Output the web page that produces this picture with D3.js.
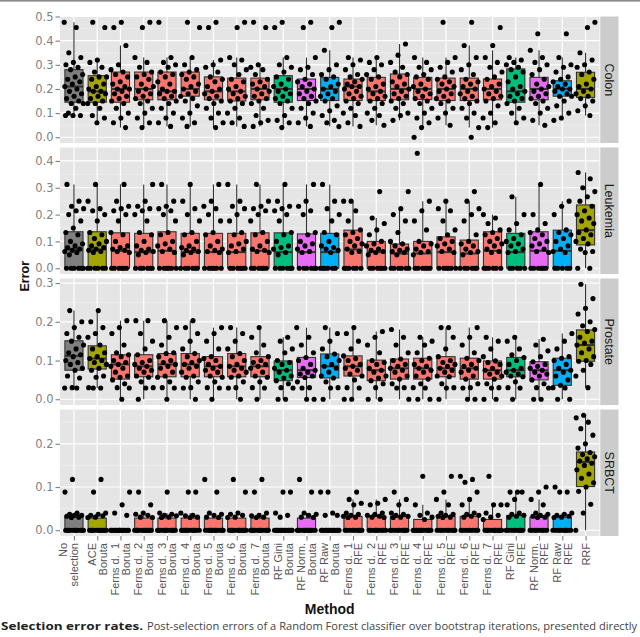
<!DOCTYPE html>
<html><head><meta charset="utf-8">
<script src="https://cdn.jsdelivr.net/npm/d3@7"></script>
<style>body{margin:0;background:#fff} svg{display:block}</style>
</head><body>
<svg id="c" width="640" height="637"></svg>
<script>
// ---------- DATA ----------
const NB = "\u00A0";
const methodLabels = [
  ["No","selection",""],["ACE","Boruta"],
  ["Ferns d."+NB+" 1","Boruta"],["Ferns d."+NB+" 2","Boruta"],["Ferns d."+NB+" 3","Boruta"],["Ferns d."+NB+" 4","Boruta"],
  ["Ferns d."+NB+" 5","Boruta"],["Ferns d."+NB+" 6","Boruta"],["Ferns d."+NB+" 7","Boruta"],
  ["RF Gini","Boruta"],["RF Norm.","Boruta"],["RF Raw","Boruta"],
  ["Ferns d."+NB+" 1","RFE"],["Ferns d."+NB+" 2","RFE"],["Ferns d."+NB+" 3","RFE"],["Ferns d."+NB+" 4","RFE"],
  ["Ferns d."+NB+" 5","RFE"],["Ferns d."+NB+" 6","RFE"],["Ferns d."+NB+" 7","RFE"],
  ["RF Gini","RFE"],["RF Norm.","RFE"],["RF Raw","RFE"],["RRF"]
];
const methodGroup = ["none","ace","fb","fb","fb","fb","fb","fb","fb","gini","norm","raw",
  "fb","fb","fb","fb","fb","fb","fb","gini","norm","raw","ace"];
const groupFill = {none:"#7F7F7F", ace:"#A3A500", fb:"#F8766D", gini:"#00BF7D", norm:"#E76BF3", raw:"#00B0F6"};
const facetNames = ["Colon","Leukemia","Prostate","SRBCT"];

const colonTicks = [0,0.1,0.2,0.3,0.4,0.5];
const leukemiaTicks = [0,0.1,0.2,0.3,0.4];
const prostateTicks = [0,0.1,0.2,0.3];
const srbctTicks = [0,0.1,0.2];

// box stats: [lower whisker, q1, median, q3, upper whisker]
const colonBoxes = [
[0.09,0.145,0.21,0.28,0.4762],[0.06,0.145,0.19,0.255,0.32],[0.04,0.145,0.2,0.27,0.38],[0.04,0.155,0.2,0.27,0.33],
[0.045,0.155,0.19,0.27,0.33],[0.045,0.17,0.2,0.27,0.33],[0.04,0.155,0.19,0.25,0.32],[0.045,0.15,0.19,0.245,0.33],
[0.045,0.155,0.2,0.245,0.3],[0.04,0.145,0.2,0.255,0.33],[0.045,0.152,0.2,0.241,0.33],[0.044,0.152,0.2,0.248,0.36],
[0.045,0.152,0.21,0.241,0.33],[0.05,0.152,0.19,0.248,0.33],[0.07,0.155,0.2,0.262,0.386],[0.04,0.156,0.2,0.248,0.33],
[0.05,0.152,0.2,0.245,0.33],[0.04,0.152,0.2,0.245,0.38],[0.04,0.155,0.2,0.241,0.36],[0.06,0.145,0.19,0.283,0.33],
[0.05,0.155,0.2,0.248,0.36],[0.07,0.17,0.2,0.234,0.33],[0.09,0.165,0.2,0.269,0.35]
];
const colonPoints = [
[0.4762,0.4545,0.35,0.33,0.31,0.3,0.29,0.28,0.26,0.25,0.24,0.23,0.22,0.21,0.2,0.19,0.18,0.17,0.16,0.15,0.14,0.14,0.12,0.1,0.09,0.09,0.09],
[0.4762,0.4545,0.32,0.31,0.29,0.27,0.25,0.25,0.24,0.22,0.21,0.2,0.19,0.19,0.18,0.17,0.16,0.15,0.14,0.14,0.12,0.09,0.08,0.06],
[0.4762,0.4545,0.38,0.3,0.28,0.27,0.26,0.25,0.23,0.22,0.21,0.2,0.2,0.19,0.18,0.17,0.16,0.15,0.14,0.12,0.1,0.08,0.06,0.04],
[0.4762,0.4545,0.33,0.31,0.29,0.27,0.26,0.25,0.24,0.22,0.21,0.2,0.19,0.18,0.17,0.16,0.15,0.14,0.12,0.1,0.08,0.06,0.04],
[0.4762,0.33,0.31,0.3,0.29,0.27,0.26,0.25,0.23,0.22,0.2,0.19,0.19,0.18,0.17,0.16,0.15,0.14,0.12,0.1,0.08,0.06,0.045],
[0.4762,0.4545,0.33,0.3,0.28,0.27,0.26,0.25,0.24,0.22,0.21,0.2,0.19,0.18,0.17,0.16,0.15,0.13,0.1,0.08,0.06,0.045],
[0.4762,0.4545,0.32,0.3,0.29,0.27,0.25,0.24,0.23,0.21,0.2,0.19,0.18,0.17,0.16,0.15,0.14,0.12,0.1,0.08,0.06,0.04],
[0.4762,0.4545,0.33,0.32,0.3,0.28,0.26,0.24,0.23,0.21,0.2,0.19,0.18,0.17,0.16,0.15,0.14,0.12,0.1,0.08,0.06,0.045],
[0.4762,0.4545,0.3,0.29,0.28,0.26,0.24,0.23,0.22,0.21,0.2,0.19,0.18,0.17,0.16,0.15,0.14,0.12,0.09,0.07,0.06,0.045],
[0.4762,0.4545,0.33,0.3,0.29,0.27,0.25,0.24,0.22,0.21,0.2,0.19,0.18,0.17,0.16,0.15,0.14,0.12,0.09,0.07,0.06,0.04],
[0.4762,0.4545,0.33,0.29,0.28,0.26,0.24,0.23,0.22,0.21,0.2,0.19,0.18,0.17,0.16,0.15,0.14,0.12,0.1,0.08,0.06,0.045],
[0.4762,0.4545,0.36,0.3,0.28,0.26,0.25,0.24,0.22,0.21,0.2,0.19,0.18,0.17,0.16,0.15,0.13,0.11,0.09,0.07,0.06,0.044],
[0.33,0.32,0.3,0.28,0.26,0.25,0.24,0.23,0.22,0.21,0.21,0.2,0.19,0.18,0.17,0.16,0.15,0.14,0.12,0.1,0.09,0.06,0.045],
[0.33,0.31,0.3,0.28,0.26,0.25,0.24,0.22,0.21,0.2,0.19,0.18,0.17,0.16,0.15,0.14,0.12,0.1,0.09,0.07,0.05],
[0.386,0.34,0.31,0.29,0.27,0.26,0.25,0.23,0.22,0.21,0.2,0.19,0.18,0.17,0.16,0.15,0.14,0.12,0.1,0.09,0.07],
[0.33,0.31,0.29,0.28,0.26,0.25,0.24,0.22,0.21,0.2,0.19,0.18,0.17,0.16,0.15,0.14,0.12,0.1,0.08,0.06,0.04,0.0],
[0.4762,0.33,0.31,0.29,0.27,0.25,0.24,0.23,0.22,0.21,0.2,0.19,0.18,0.17,0.16,0.15,0.14,0.12,0.1,0.08,0.05],
[0.4762,0.38,0.33,0.3,0.28,0.26,0.24,0.23,0.22,0.21,0.2,0.19,0.18,0.17,0.16,0.15,0.14,0.12,0.1,0.08,0.04,0.0],
[0.4545,0.38,0.33,0.31,0.29,0.27,0.25,0.24,0.22,0.21,0.2,0.19,0.18,0.17,0.16,0.15,0.13,0.1,0.08,0.06,0.04],
[0.33,0.32,0.31,0.3,0.29,0.28,0.27,0.25,0.23,0.21,0.2,0.19,0.18,0.17,0.16,0.15,0.14,0.12,0.1,0.08,0.06],
[0.4286,0.36,0.33,0.31,0.3,0.28,0.26,0.24,0.22,0.21,0.2,0.19,0.18,0.17,0.16,0.15,0.14,0.12,0.1,0.07,0.05],
[0.4286,0.33,0.3,0.29,0.27,0.25,0.24,0.23,0.22,0.21,0.2,0.2,0.19,0.18,0.17,0.17,0.15,0.13,0.1,0.08,0.07],
[0.4762,0.4545,0.35,0.32,0.3,0.29,0.27,0.26,0.24,0.22,0.21,0.2,0.19,0.18,0.17,0.16,0.15,0.13,0.11,0.09]
];

const leukemiaBoxes = [
[0,0,0.07,0.136,0.3125],[0,0,0.07,0.136,0.3125],[0,0,0.065,0.132,0.3125],[0,0,0.06,0.13,0.3125],
[0,0,0.065,0.136,0.3125],[0,0,0.06,0.13,0.3125],[0,0,0.06,0.13,0.3125],[0,0,0.06,0.13,0.3125],
[0,0,0.065,0.132,0.3125],[0,0,0.06,0.132,0.3125],[0,0,0.06,0.128,0.3125],[0,0,0.06,0.13,0.3125],
[0,0,0.07,0.142,0.25],[0,0,0.06,0.1,0.1875],[0,0,0.055,0.09,0.2222],[0,0,0.055,0.1,0.25],
[0,0,0.06,0.117,0.25],[0,0,0.055,0.105,0.25],[0,0,0.065,0.136,0.2],[0,0,0.06,0.13,0.2667],
[0,0,0.065,0.136,0.3125],[0,0,0.065,0.142,0.25],[0,0.087,0.142,0.236,0.3571]
];
const leukemiaPoints = [
[0.3125,0.25,0.2308,0.2222,0.2143,0.2,0.1765,0.15,0.1333,0.125,0.1,0.0909,0.0833,0.0769,0.0714,0.0667,0.0625,0.0588,0.05,0,0,0,0,0,0],
[0.3125,0.25,0.2222,0.2143,0.2,0.1765,0.1333,0.125,0.1111,0.1,0.0909,0.0833,0.0769,0.0714,0.0667,0.0625,0.0588,0,0,0,0,0,0],
[0.3125,0.25,0.2308,0.2222,0.2143,0.2,0.1765,0.1333,0.125,0.1,0.0833,0.0769,0.0714,0.0667,0.0625,0.0588,0,0,0,0,0,0],
[0.3125,0.25,0.2308,0.2222,0.2143,0.2,0.1765,0.1333,0.125,0.1,0.0833,0.0714,0.0667,0.0625,0.0588,0.05,0,0,0,0,0,0],
[0.3125,0.25,0.2308,0.2222,0.2143,0.2,0.1765,0.1333,0.125,0.1,0.0909,0.0833,0.0714,0.0625,0.0588,0,0,0,0,0,0],
[0.3125,0.25,0.2222,0.2,0.1765,0.1333,0.125,0.1,0.0833,0.0769,0.0714,0.0667,0.0625,0.0588,0.05,0,0,0,0,0,0],
[0.3125,0.25,0.2308,0.2222,0.2,0.1765,0.1333,0.125,0.1,0.0833,0.0714,0.0667,0.0625,0.0588,0,0,0,0,0,0],
[0.3125,0.25,0.2308,0.2222,0.2,0.1765,0.1333,0.125,0.1,0.0909,0.0833,0.0714,0.0625,0.0588,0,0,0,0,0,0],
[0.3125,0.25,0.2308,0.2222,0.2143,0.2,0.1765,0.1333,0.125,0.1,0.0833,0.0714,0.0667,0.0625,0.0588,0,0,0,0,0,0],
[0.3125,0.25,0.2308,0.2222,0.2143,0.2,0.1765,0.1333,0.125,0.1,0.0833,0.0769,0.0714,0.0588,0.05,0,0,0,0,0,0],
[0.3125,0.25,0.2308,0.2143,0.2,0.1333,0.125,0.1,0.0909,0.0833,0.0714,0.0625,0.0588,0,0,0,0,0,0],
[0.3125,0.25,0.2222,0.2,0.1765,0.1333,0.125,0.1,0.0833,0.0769,0.0714,0.0667,0.0588,0,0,0,0,0,0],
[0.25,0.25,0.2143,0.1765,0.1429,0.1333,0.125,0.1111,0.1,0.0909,0.0833,0.0714,0.0625,0.0588,0,0,0,0,0,0],
[0.2857,0.1875,0.1667,0.1429,0.125,0.1,0.0909,0.0833,0.0714,0.0667,0.0625,0.0588,0.05,0,0,0,0,0,0],
[0.2857,0.2222,0.2,0.1765,0.1333,0.1,0.0909,0.0833,0.0714,0.0667,0.0625,0.0588,0.05,0,0,0,0,0,0],
[0.4286,0.25,0.2143,0.1765,0.1429,0.1,0.0909,0.0833,0.0714,0.0625,0.0588,0.05,0,0,0,0,0,0],
[0.25,0.2222,0.2143,0.1765,0.1429,0.125,0.1111,0.1,0.0909,0.0833,0.0714,0.0625,0.0588,0,0,0,0,0,0],
[0.2857,0.25,0.2222,0.2,0.1765,0.125,0.1,0.0909,0.0833,0.0714,0.0625,0.0588,0.05,0,0,0,0,0,0],
[0.2,0.1875,0.1667,0.1429,0.1333,0.125,0.1111,0.1,0.0909,0.0833,0.0714,0.0625,0.0588,0,0,0,0,0,0],
[0.2667,0.2,0.1667,0.1429,0.125,0.1111,0.1,0.0909,0.0833,0.0714,0.0625,0.0588,0,0,0,0,0],
[0.3125,0.2,0.1667,0.1429,0.1333,0.125,0.1111,0.1,0.0909,0.0833,0.0714,0.0625,0.0588,0,0,0,0,0,0],
[0.25,0.2308,0.2,0.1429,0.1333,0.125,0.1111,0.1,0.0833,0.0714,0.0625,0.0588,0,0,0,0,0],
[0.3571,0.3333,0.3,0.2857,0.2667,0.25,0.2308,0.2143,0.2,0.1875,0.1765,0.1667,0.1429,0.1333,0.125,0.1111,0.1,0.0909,0.0714,0.0625,0.0588,0,0]
];

const prostateBoxes = [
[0.029,0.075,0.112,0.151,0.229],[0.029,0.078,0.105,0.138,0.229],[0,0.052,0.09,0.115,0.203],[0,0.058,0.085,0.115,0.203],
[0,0.058,0.09,0.118,0.203],[0,0.058,0.09,0.118,0.203],[0,0.058,0.085,0.11,0.185],[0,0.058,0.085,0.118,0.185],
[0,0.058,0.085,0.11,0.185],[0,0.048,0.075,0.099,0.16],[0,0.056,0.075,0.108,0.185],[0,0.055,0.085,0.117,0.185],
[0,0.06,0.085,0.112,0.185],[0,0.048,0.075,0.101,0.175],[0,0.052,0.08,0.104,0.18],[0,0.052,0.08,0.106,0.16],
[0,0.058,0.08,0.11,0.185],[0,0.052,0.08,0.106,0.185],[0,0.052,0.075,0.099,0.16],[0,0.058,0.075,0.108,0.16],
[0,0.05,0.075,0.097,0.155],[0,0.036,0.075,0.106,0.17],[0.03,0.098,0.14,0.179,0.297]
];
const prostatePoints = [
[0.229,0.2,0.185,0.17,0.16,0.15,0.14,0.13,0.12,0.115,0.11,0.1,0.095,0.09,0.08,0.075,0.06,0.055,0.03,0.029,0.029],
[0.229,0.2,0.185,0.17,0.16,0.14,0.13,0.12,0.11,0.105,0.1,0.095,0.09,0.08,0.075,0.06,0.057,0.03,0.029,0.029],
[0.203,0.185,0.17,0.14,0.12,0.115,0.11,0.1,0.095,0.09,0.085,0.08,0.07,0.06,0.057,0.05,0.04,0.03,0.029,0],
[0.203,0.203,0.17,0.15,0.13,0.115,0.1,0.095,0.09,0.085,0.08,0.075,0.07,0.06,0.057,0.045,0.03,0.029,0],
[0.203,0.185,0.16,0.14,0.12,0.118,0.11,0.1,0.095,0.09,0.085,0.08,0.07,0.06,0.057,0.045,0.03,0.029,0],
[0.203,0.185,0.17,0.15,0.13,0.118,0.11,0.1,0.095,0.09,0.085,0.08,0.07,0.06,0.057,0.045,0.03,0.029,0],
[0.185,0.17,0.15,0.13,0.11,0.105,0.1,0.09,0.085,0.08,0.075,0.07,0.06,0.057,0.045,0.03,0.029,0],
[0.185,0.17,0.15,0.13,0.118,0.11,0.1,0.09,0.085,0.08,0.075,0.07,0.06,0.057,0.045,0.03,0.029,0],
[0.185,0.16,0.14,0.12,0.11,0.1,0.095,0.09,0.085,0.08,0.07,0.06,0.057,0.045,0.03,0.029,0],
[0.16,0.15,0.13,0.12,0.1,0.095,0.09,0.08,0.075,0.07,0.06,0.055,0.048,0.04,0.03,0.029,0,0],
[0.185,0.16,0.14,0.12,0.108,0.1,0.09,0.08,0.075,0.07,0.065,0.06,0.056,0.045,0.03,0.029,0,0],
[0.185,0.17,0.15,0.13,0.117,0.11,0.1,0.09,0.085,0.08,0.07,0.06,0.055,0.045,0.03,0.029,0],
[0.185,0.17,0.15,0.13,0.112,0.105,0.1,0.09,0.085,0.08,0.075,0.065,0.06,0.05,0.03,0.029,0,0],
[0.175,0.16,0.14,0.12,0.1,0.095,0.09,0.08,0.075,0.07,0.06,0.055,0.048,0.04,0.03,0,0],
[0.18,0.16,0.14,0.12,0.104,0.1,0.09,0.085,0.08,0.075,0.07,0.06,0.052,0.04,0.03,0.029,0],
[0.16,0.15,0.14,0.12,0.106,0.1,0.09,0.085,0.08,0.075,0.07,0.06,0.052,0.04,0.03,0.029,0,0],
[0.185,0.185,0.16,0.13,0.11,0.1,0.095,0.09,0.085,0.08,0.075,0.07,0.06,0.058,0.04,0.03,0.029,0],
[0.185,0.16,0.14,0.12,0.106,0.1,0.09,0.085,0.08,0.075,0.07,0.06,0.052,0.04,0.03,0.029,0,0],
[0.16,0.15,0.13,0.11,0.099,0.095,0.09,0.08,0.075,0.07,0.065,0.06,0.052,0.04,0.03,0.029,0,0],
[0.16,0.15,0.13,0.115,0.108,0.1,0.09,0.08,0.075,0.07,0.065,0.06,0.058,0.045,0.03,0.029,0],
[0.155,0.14,0.125,0.11,0.097,0.09,0.085,0.08,0.075,0.07,0.065,0.06,0.05,0.04,0.03,0.029,0,0],
[0.17,0.15,0.13,0.11,0.106,0.1,0.09,0.08,0.075,0.07,0.06,0.05,0.036,0.03,0.029,0,0],
[0.297,0.26,0.235,0.22,0.2,0.19,0.18,0.175,0.16,0.15,0.145,0.14,0.13,0.12,0.11,0.1,0.098,0.09,0.075,0.06,0.03]
];

const srbctBoxes = [
[0,0,0,0.03,0.04],[0,0,0,0.028,0.04],[0,0,0,0,0],[0,0,0,0.028,0.04],
[0,0,0,0.028,0.04],[0,0,0,0.028,0.04],[0,0,0,0.028,0.04],[0,0,0,0.028,0.04],
[0,0,0,0.028,0.04],[0,0,0,0,0],[0,0,0,0.028,0.04],[0,0,0,0,0],
[0,0,0,0.032,0.0714],[0,0,0,0.032,0.0714],[0,0,0,0.032,0.0714],[0,0,0,0.025,0.0588],
[0,0,0,0.032,0.0714],[0,0,0,0.032,0.0714],[0,0,0,0.025,0.0588],[0,0,0,0.034,0.0882],
[0,0,0,0.03,0.0714],[0,0,0,0.03,0.04],[0,0.101,0.158,0.181,0.266]
];
const srbctPoints = [
[0.1176,0.0882,0.04,0.037,0.0345,0.0345,0.0323,0.0303,0.0294,0,0,0,0,0,0,0,0,0,0,0],
[0.1176,0.0882,0.04,0.037,0.0345,0.0333,0.0303,0.0294,0,0,0,0,0,0,0,0,0,0,0],
[0.0882,0.0588,0.04,0.0345,0,0,0,0,0,0,0,0,0,0,0,0,0,0],
[0.0882,0.0588,0.04,0.037,0.0345,0.0303,0.0294,0,0,0,0,0,0,0,0,0,0,0],
[0.0882,0.04,0.037,0.0345,0.0333,0.0303,0.0294,0,0,0,0,0,0,0,0,0,0,0],
[0.0882,0.0882,0.04,0.0345,0.0333,0.0303,0.0294,0,0,0,0,0,0,0,0,0,0,0],
[0.1176,0.0882,0.04,0.037,0.0345,0.0303,0.0294,0,0,0,0,0,0,0,0,0,0,0],
[0.1176,0.0882,0.04,0.037,0.0345,0.0303,0.0294,0,0,0,0,0,0,0,0,0,0,0],
[0.1176,0.0882,0.04,0.0345,0.0333,0.0303,0.0294,0,0,0,0,0,0,0,0,0,0,0],
[0.0882,0.0882,0.04,0.0345,0.0303,0,0,0,0,0,0,0,0,0,0,0,0,0],
[0.1176,0.0882,0.04,0.037,0.0345,0.0303,0.0294,0,0,0,0,0,0,0,0,0,0,0],
[0.0882,0.0882,0.04,0.0345,0.0345,0,0,0,0,0,0,0,0,0,0,0,0,0],
[0.0882,0.0714,0.0625,0.0588,0.04,0.037,0.0345,0.0323,0.0303,0.0294,0,0,0,0,0,0,0,0,0],
[0.0714,0.0625,0.0588,0.04,0.037,0.0345,0.0323,0.0303,0.0294,0,0,0,0,0,0,0,0,0],
[0.0882,0.0714,0.0588,0.04,0.037,0.0345,0.0323,0.0303,0.0294,0,0,0,0,0,0,0,0,0],
[0.125,0.0588,0.04,0.0345,0.0303,0.025,0,0,0,0,0,0,0,0,0,0,0,0],
[0.125,0.0882,0.0714,0.0588,0.04,0.037,0.0345,0.0323,0.0303,0.0294,0,0,0,0,0,0,0,0,0],
[0.125,0.1176,0.1111,0.0882,0.0714,0.0588,0.04,0.037,0.0345,0.0323,0.0303,0,0,0,0,0,0,0,0],
[0.125,0.0588,0.0588,0.04,0.0345,0.0303,0.025,0,0,0,0,0,0,0,0,0,0,0],
[0.0882,0.0882,0.0882,0.0714,0.0588,0.04,0.037,0.0345,0.0323,0.0303,0,0,0,0,0,0,0,0,0],
[0.1,0.0882,0.0714,0.0588,0.04,0.037,0.0345,0.0323,0.0303,0.0294,0,0,0,0,0,0,0,0],
[0.1,0.0882,0.0882,0.04,0.037,0.0345,0.0323,0.0303,0.0294,0,0,0,0,0,0,0,0,0],
[0.266,0.26,0.25,0.235,0.22,0.2,0.19,0.18,0.175,0.17,0.165,0.16,0.155,0.15,0.14,0.13,0.12,0.11,0.1,0.09,0.06,0.04,0]
];

const facetBoxes = [colonBoxes, leukemiaBoxes, prostateBoxes, srbctBoxes];
const facetPoints = [colonPoints, leukemiaPoints, prostatePoints, srbctPoints];
const facetTicks = [colonTicks, leukemiaTicks, prostateTicks, srbctTicks];

const captionBold = "Selection error rates.";
const captionText = "Post-selection errors of a Random Forest classifier over bootstrap iterations, presented directly";

// ---------- LAYOUT ----------
const W = 640, H = 637;
const plotL = 60, plotR = 599.5;
const panelTop0 = 16.5, panelH = 126.5, panelGap = 4.5;
const stripX = 600.3, stripW = 18.2;
const svg = d3.select("#c");

const x = d3.scalePoint().domain(d3.range(methodLabels.length)).range([plotL, plotR]).padding(0.6);
const step = x.step();
const boxW = step * 0.78;
const jitterW = 0.42 * step;

// top border line
svg.append("rect").attr("x",0).attr("y",0).attr("width",W).attr("height",1.6).attr("fill","#8a8a8a");

let lastBottom = 0;
facetNames.forEach((name, fi) => {
  const top = panelTop0 + fi * (panelH + panelGap), bottom = top + panelH;
  lastBottom = bottom;
  const pts = facetPoints[fi], boxes = facetBoxes[fi], ticks = facetTicks[fi];
  const all = pts.flat();
  const lo = d3.min(all), hi = d3.max(all), r = hi - lo;
  const y = d3.scaleLinear().domain([lo - 0.05*r, hi + 0.05*r]).range([bottom, top]);
  const dom = y.domain();
  const g = svg.append("g");

  g.append("rect").attr("x",plotL).attr("y",top).attr("width",plotR-plotL).attr("height",panelH).attr("fill","#E5E5E5");
  const minor = ticks.map(t => t + 0.05).filter(v => v > dom[0] && v < dom[1] - 1e-6);
  g.selectAll(".mn").data(minor).join("line")
    .attr("x1",plotL).attr("x2",plotR).attr("y1",d=>y(d)).attr("y2",d=>y(d))
    .attr("stroke","#F2F2F2").attr("stroke-width",0.6);
  g.selectAll(".mj").data(ticks).join("line")
    .attr("x1",plotL).attr("x2",plotR).attr("y1",d=>y(d)).attr("y2",d=>y(d))
    .attr("stroke","#FFFFFF").attr("stroke-width",1.2);
  g.selectAll(".vx").data(x.domain()).join("line")
    .attr("x1",d=>x(d)).attr("x2",d=>x(d)).attr("y1",top).attr("y2",bottom)
    .attr("stroke","#FFFFFF").attr("stroke-width",1.2);

  boxes.forEach((b, ci) => {
    const cx = x(ci);
    const [wl, q1, med, q3, wh] = b;
    g.append("line").attr("x1",cx).attr("x2",cx).attr("y1",y(wl)).attr("y2",y(wh))
      .attr("stroke","#333333").attr("stroke-width",1.1);
    g.append("rect").attr("x",cx-boxW/2).attr("y",y(q3)).attr("width",boxW).attr("height",Math.max(0.01, y(q1)-y(q3)))
      .attr("fill",groupFill[methodGroup[ci]]).attr("stroke","#333333").attr("stroke-width",1.1);
    g.append("line").attr("x1",cx-boxW/2).attr("x2",cx+boxW/2).attr("y1",y(med)).attr("y2",y(med))
      .attr("stroke","#333333").attr("stroke-width",2);
  });

  pts.forEach((arr, ci) => {
    arr.forEach((v, i) => {
      const u = ((i*0.6180339 + ci*0.2718 + fi*0.1414) % 1) - 0.5;
      g.append("circle").attr("cx", x(ci) + u*2*jitterW).attr("cy", y(v)).attr("r", 2.55).attr("fill","#000");
    });
  });

  const ax = g.append("g").attr("transform",`translate(${plotL},0)`)
    .call(d3.axisLeft(y).tickValues(ticks).tickSize(4.5).tickPadding(2).tickFormat(d3.format(".1f")));
  ax.select(".domain").remove();
  ax.selectAll(".tick line").attr("stroke","#7F7F7F").attr("stroke-width",1.1);
  ax.selectAll(".tick text").attr("fill","#7F7F7F").style("font-family","'DejaVu Sans', sans-serif").style("font-size","11.5px");

  g.append("rect").attr("x",stripX).attr("y",top).attr("width",stripW).attr("height",panelH).attr("fill","#CCCCCC");
  g.append("text").attr("transform",`translate(${stripX+stripW/2},${(top+bottom)/2}) rotate(90)`)
    .attr("text-anchor","middle").attr("dominant-baseline","central")
    .style("font-family","'Liberation Sans', Arial, sans-serif").style("font-size","12.5px").attr("fill","#1a1a1a")
    .text(name);
});

const xa = svg.append("g").attr("transform",`translate(0,${lastBottom})`)
  .call(d3.axisBottom(x).tickSize(4.5).tickFormat(""));
xa.select(".domain").remove();
xa.selectAll(".tick line").attr("stroke","#7F7F7F").attr("stroke-width",1.1);

const fs = 11, lh = 10.8;
methodLabels.forEach((lines, ci) => {
  const t = svg.append("text")
    .attr("transform",`translate(${x(ci)},${lastBottom+7}) rotate(-90)`)
    .attr("text-anchor","end")
    .style("font-family","'Liberation Sans', Arial, sans-serif").style("font-size",fs+"px")
    .style("white-space","pre").attr("fill","#555555");
  const n = lines.length;
  lines.forEach((ln, k) => {
    t.append("tspan").attr("x",0).attr("y",(k-(n-1)/2)*lh + 0.36*fs).text(ln);
  });
});

svg.append("text").attr("transform",`translate(25,${(panelTop0+lastBottom)/2}) rotate(-90)`)
  .attr("text-anchor","middle").attr("dominant-baseline","central")
  .style("font-family","'Liberation Sans', Arial, sans-serif").style("font-size","12.5px").style("font-weight","bold")
  .attr("fill","#111").text("Error");
svg.append("text").attr("x",(plotL+plotR)/2).attr("y",614)
  .attr("text-anchor","middle")
  .style("font-family","'Liberation Sans', Arial, sans-serif").style("font-size","14px").style("font-weight","bold")
  .attr("fill","#111").text("Method");

// caption, kept fully inside the picture
svg.append("text").attr("x",1).attr("y",630)
  .attr("textLength",142).attr("lengthAdjust","spacingAndGlyphs")
  .style("font-family","'Open Sans', sans-serif").style("font-size","11px").style("font-weight","bold")
  .attr("fill","#222").text(captionBold);
svg.append("text").attr("x",147).attr("y",630)
  .attr("textLength",490).attr("lengthAdjust","spacingAndGlyphs")
  .style("font-family","'Open Sans', sans-serif").style("font-size","11px")
  .attr("fill","#444").text(captionText);
</script>
</body></html>
